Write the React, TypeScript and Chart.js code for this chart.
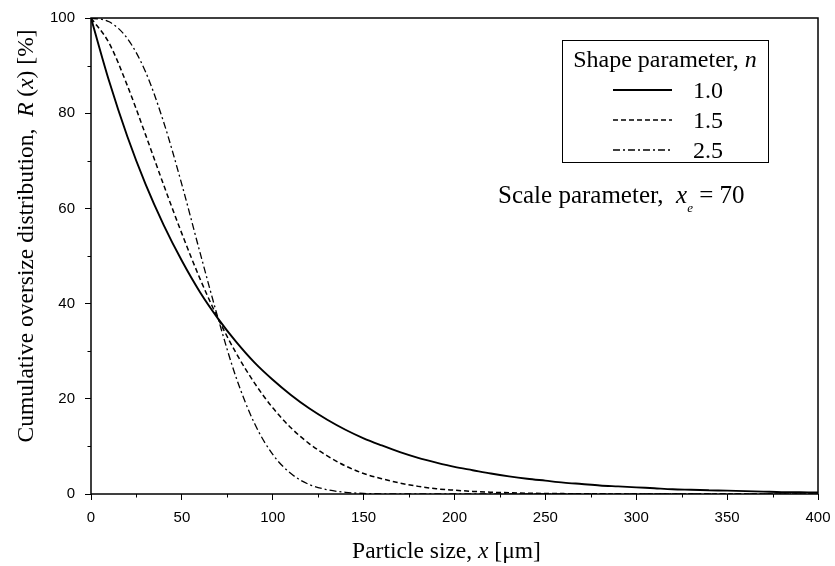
import React, { useEffect, useRef } from "react";
import { Chart, registerables } from "chart.js";

Chart.register(...registerables);

// ---- data ----
const particleSize = [
  0, 10, 20, 30, 40, 50, 60, 70, 80, 90, 100, 110, 120, 130, 140, 150, 160, 170, 180, 190, 200,
  210, 220, 230, 240, 250, 260, 270, 280, 290, 300, 310, 320, 330, 340, 350, 360, 370, 380, 390, 400,
];
const shapeN10 = [
  100, 86.7, 75.1, 65.1, 56.5, 49.0, 42.4, 36.8, 31.9, 27.6, 24.0, 20.8, 18.0, 15.6, 13.5, 11.7, 10.2, 8.8, 7.6, 6.6, 5.7,
  5.0, 4.3, 3.7, 3.2, 2.8, 2.4, 2.1, 1.8, 1.6, 1.4, 1.2, 1.0, 0.9, 0.8, 0.7, 0.6, 0.5, 0.4, 0.4, 0.3,
];
const shapeN15 = [
  100, 94.7, 85.8, 75.5, 64.9, 54.7, 45.2, 36.8, 29.5, 23.3, 18.1, 13.9, 10.6, 8.0, 5.9, 4.3, 3.2, 2.3, 1.6, 1.1, 0.8,
  0.55, 0.38, 0.26, 0.17, 0.12, 0.08, 0.05, 0.03, 0.02, 0.01, 0.01, 0, 0, 0, 0, 0, 0, 0, 0, 0,
];
const shapeN25 = [
  100, 99.2, 95.7, 88.7, 78.1, 65.0, 50.7, 36.8, 24.3, 14.8, 8.3, 4.3, 2.0, 0.9, 0.35, 0.12, 0.04, 0.01, 0, 0, 0,
  0, 0, 0, 0, 0, 0, 0, 0, 0, 0, 0, 0, 0, 0, 0, 0, 0, 0, 0, 0,
];
const seriesLabels = ["1.0", "1.5", "2.5"];
const xMinorTicks = [25, 75, 125, 175, 225, 275, 325, 375];
const yMinorTicks = [10, 30, 50, 70, 90];
const xMax = 400;
const yMax = 100;
const xStep = 50;
const yStep = 20;

const SERIF = "'Liberation Serif', 'Times New Roman', serif";
const SANS = "'Liberation Sans', Arial, sans-serif";
const dashes: number[][] = [[], [5, 3], [7, 3, 2, 3]];
const widths = [1.9, 1.5, 1.3];

type Run = { t: string; it?: boolean; size: number; dy?: number };

function runsWidth(ctx: CanvasRenderingContext2D, runs: Run[]) {
  let w = 0;
  for (const r of runs) {
    ctx.font = `${r.it ? "italic " : ""}${r.size}px ${SERIF}`;
    w += ctx.measureText(r.t).width;
  }
  return w;
}

function drawRuns(ctx: CanvasRenderingContext2D, runs: Run[], x: number, y: number, align: "left" | "center") {
  const total = runsWidth(ctx, runs);
  let cx = align === "center" ? x - total / 2 : x;
  ctx.textAlign = "left";
  ctx.textBaseline = "alphabetic";
  ctx.fillStyle = "#000";
  for (const r of runs) {
    ctx.font = `${r.it ? "italic " : ""}${r.size}px ${SERIF}`;
    ctx.fillText(r.t, cx, y + (r.dy || 0));
    cx += ctx.measureText(r.t).width;
  }
}

const decorations = {
  id: "decorations",
  afterDraw(chart: any) {
    const ctx: CanvasRenderingContext2D = chart.ctx;
    const a = chart.chartArea;
    const xs = chart.scales.x;
    const ys = chart.scales.y;
    ctx.save();
    // frame
    ctx.strokeStyle = "#000";
    ctx.lineWidth = 1.5;
    ctx.setLineDash([]);
    ctx.strokeRect(a.left, a.top, a.right - a.left, a.bottom - a.top);
    // minor ticks
    ctx.lineWidth = 1;
    ctx.beginPath();
    for (const v of xMinorTicks) {
      const px = Math.round(xs.getPixelForValue(v)) + 0.5;
      ctx.moveTo(px, a.bottom);
      ctx.lineTo(px, a.bottom + 3.5);
    }
    for (const v of yMinorTicks) {
      const py = Math.round(ys.getPixelForValue(v)) + 0.5;
      ctx.moveTo(a.left - 3.5, py);
      ctx.lineTo(a.left, py);
    }
    ctx.stroke();

    // x title
    drawRuns(
      ctx,
      [
        { t: "Particle size, ", size: 23.5 },
        { t: "x", it: true, size: 23.5 },
        { t: " [\u03bcm]", size: 23.5 },
      ],
      (a.left + a.right) / 2 - 8,
      558,
      "center"
    );

    // y title
    ctx.save();
    ctx.translate(33, 236);
    ctx.rotate(-Math.PI / 2);
    drawRuns(
      ctx,
      [
        { t: "Cumulative oversize distribution,  ", size: 23.5 },
        { t: "R", it: true, size: 23.5 },
        { t: " (", size: 23.5 },
        { t: "x", it: true, size: 23.5 },
        { t: ") [%]", size: 23.5 },
      ],
      0,
      0,
      "center"
    );
    ctx.restore();

    // legend box
    const bx = 562, by = 40, bw = 206, bh = 122;
    ctx.lineWidth = 1;
    ctx.strokeStyle = "#000";
    ctx.strokeRect(bx + 0.5, by + 0.5, bw, bh);
    drawRuns(
      ctx,
      [
        { t: "Shape parameter, ", size: 24 },
        { t: "n", it: true, size: 24 },
      ],
      bx + bw / 2,
      67,
      "center"
    );
    const rowY = [90, 120, 150];
    seriesLabels.forEach((lab, i) => {
      ctx.beginPath();
      ctx.lineWidth = widths[i];
      ctx.setLineDash(dashes[i]);
      ctx.moveTo(613, rowY[i]);
      ctx.lineTo(672, rowY[i]);
      ctx.stroke();
      ctx.setLineDash([]);
      drawRuns(ctx, [{ t: lab, size: 24 }], 693, rowY[i] + 8, "left");
    });

    // scale parameter annotation
    drawRuns(
      ctx,
      [
        { t: "Scale parameter,  ", size: 25 },
        { t: "x", it: true, size: 25 },
        { t: "e", it: true, size: 13, dy: 9 },
        { t: " = 70", size: 25 },
      ],
      498,
      203,
      "left"
    );
    ctx.restore();
  },
};

export default function App() {
  const ref = useRef<HTMLCanvasElement | null>(null);
  useEffect(() => {
    document.body.style.margin = "0";
    const canvas = ref.current;
    if (!canvas) return;
    const mk = (vals: number[]) => particleSize.map((x, i) => ({ x, y: vals[i] }));
    const chart = new Chart(canvas, {
      type: "line",
      data: {
        datasets: [shapeN10, shapeN15, shapeN25].map((vals, i) => ({
          label: seriesLabels[i],
          data: mk(vals),
          borderColor: "#000",
          borderWidth: widths[i],
          borderDash: dashes[i],
          pointRadius: 0,
          fill: false,
          cubicInterpolationMode: "monotone" as const,
        })),
      },
      options: {
        animation: false,
        responsive: false,
        maintainAspectRatio: false,
        layout: { padding: { left: 0, right: 17, top: 18, bottom: 0 } },
        plugins: { legend: { display: false }, tooltip: { enabled: false }, title: { display: false } },
        scales: {
          x: {
            type: "linear",
            min: 0,
            max: xMax,
            ticks: {
              stepSize: xStep,
              color: "#000",
              font: { family: SANS, size: 15 },
              padding: 9,
              maxRotation: 0,
            },
            grid: { drawOnChartArea: false, drawTicks: true, tickLength: 6, tickColor: "#000", tickWidth: 1 },
            border: { display: false },
            afterFit(scale: any) {
              scale.height = 72;
              scale.paddingLeft = 0;
              scale.paddingRight = 0;
            },
          },
          y: {
            type: "linear",
            min: 0,
            max: yMax,
            ticks: {
              stepSize: yStep,
              color: "#000",
              font: { family: SANS, size: 15 },
              padding: 10,
            },
            grid: { drawOnChartArea: false, drawTicks: true, tickLength: 6, tickColor: "#000", tickWidth: 1 },
            border: { display: false },
            afterFit(scale: any) {
              scale.width = 91;
              scale.paddingTop = 0;
              scale.paddingBottom = 0;
            },
          },
        },
      },
      plugins: [decorations],
    });
    return () => chart.destroy();
  }, []);
  return (
    <div style={{ width: 835, height: 566, background: "#fff" }}>
      <canvas ref={ref} width={835} height={566} style={{ display: "block" }} />
    </div>
  );
}
